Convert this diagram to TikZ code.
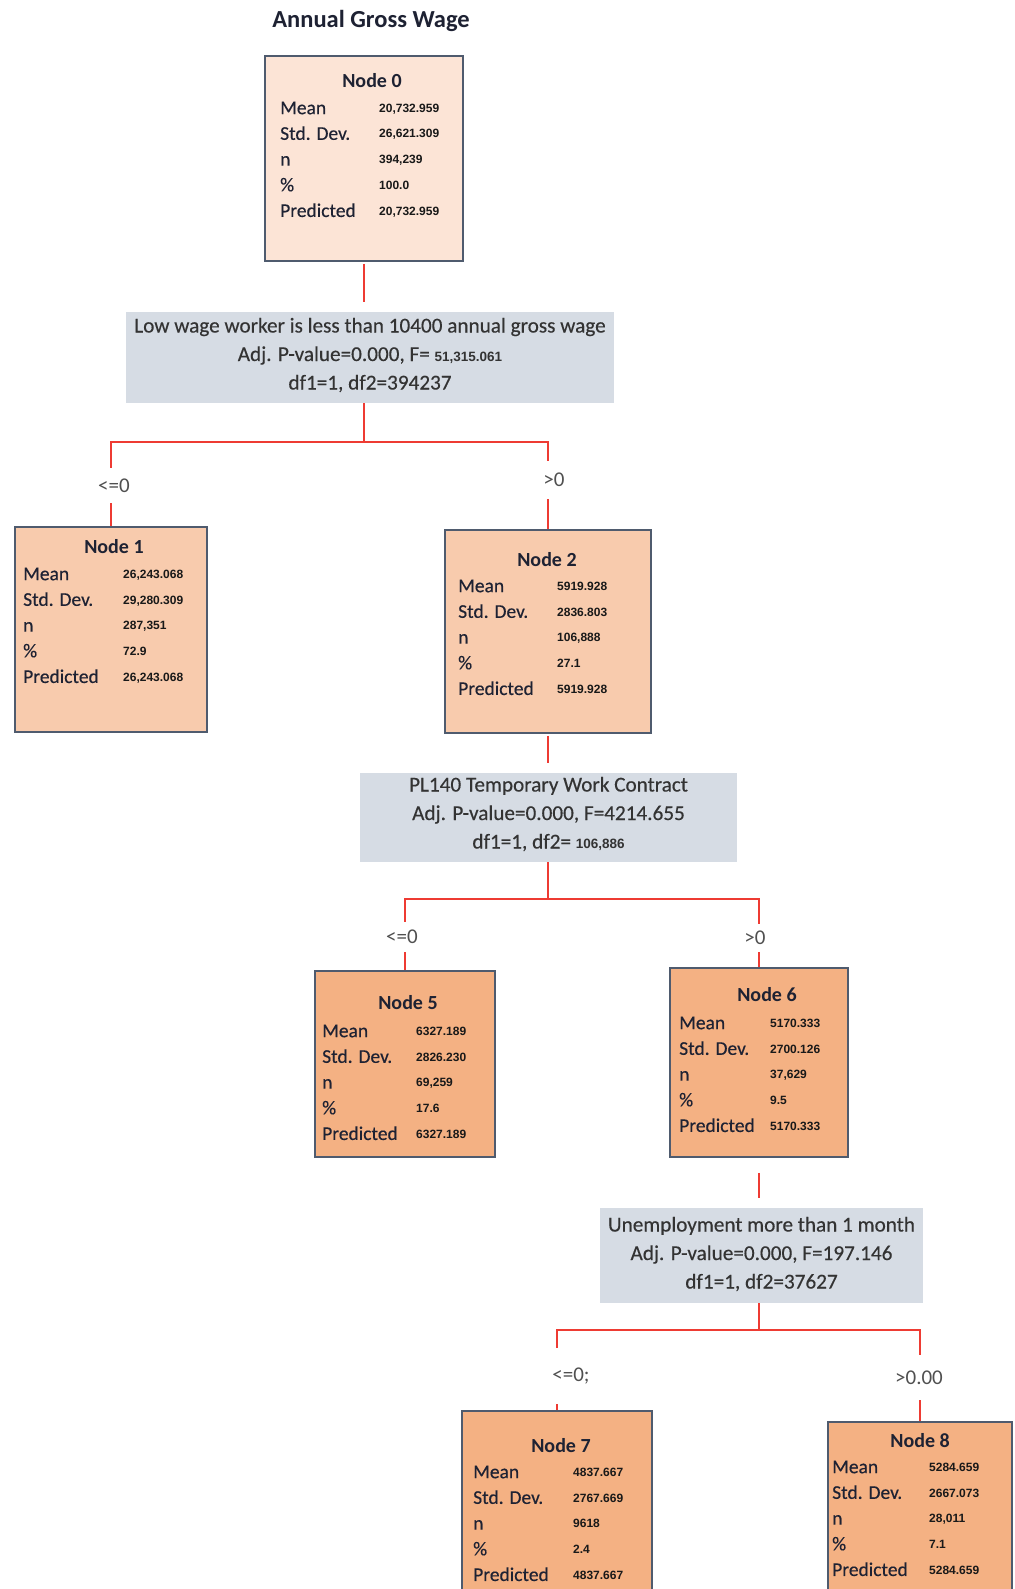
\documentclass[tikz,border=0pt]{standalone}
\usepackage{fontspec}
\setmainfont{Carlito}
\newfontfamily\labf[FakeBold=0.35]{Carlito}
\newfontfamily\numf{Liberation Sans}
\definecolor{fillA}{HTML}{FCE4D6}
\definecolor{fillB}{HTML}{F8CBAD}
\definecolor{fillC}{HTML}{F4B183}
\definecolor{edgec}{HTML}{4F5B6E}
\definecolor{splitc}{HTML}{D6DCE4}
\definecolor{redc}{HTML}{EE3B33}
\definecolor{labc}{HTML}{1E2233}
\definecolor{splittext}{HTML}{333333}
\definecolor{brkc}{HTML}{505050}
\newcommand\snum[1]{{\numf\bfseries\fontsize{13.5}{13.5}\selectfont #1}}
\newcommand\tbox[6]{%
  \node[tbox,fill=#6,minimum width={#4-#2},minimum height={#5-#3}] (#1) at ({(#2+#4)/2},{(#3+#5)/2}) {};}
\newcommand\statrows[9]{%
  \node[lab] (#1m) at (#2,#4) {Mean};
  \node[lab] (#1s) at (#2,{#4+25.7}) {Std. Dev.};
  \node[lab] (#1n) at (#2,{#4+51.4}) {n};
  \node[lab] (#1p) at (#2,{#4+77.1}) {\%};
  \node[lab] (#1r) at (#2,{#4+102.8}) {Predicted};
  \node[val] (#1mv) at (#3,#4) {#5};
  \node[val] (#1sv) at (#3,{#4+25.7}) {#6};
  \node[val] (#1nv) at (#3,{#4+51.4}) {#7};
  \node[val] (#1pv) at (#3,{#4+77.1}) {#8};
  \node[val] (#1rv) at (#3,{#4+102.8}) {#9};}
\begin{document}
\begin{tikzpicture}[x=1pt,y=-1pt,
  tbox/.style={draw=edgec,line width=1.6pt,inner sep=0pt},
  lab/.style={font=\labf\fontsize{19.5}{19.5}\selectfont,text=labc,inner sep=0pt,anchor=west,text height=12.3pt,text depth=0pt},
  val/.style={font=\numf\bfseries\fontsize{12}{12}\selectfont,text=black!90,inner sep=0pt,anchor=west,text height=8.6pt,text depth=0pt},
  ttl/.style={font=\bfseries\fontsize{20}{20}\selectfont,text=labc,inner sep=0pt,text height=12.8pt,text depth=0pt},
  splitbox/.style={fill=splitc,inner sep=0pt},
  splittxt/.style={font=\labf\fontsize{21.2}{28.5}\selectfont,text=splittext,align=center,inner sep=0pt},
  brk/.style={font=\fontsize{21}{21}\selectfont,text=brkc,inner sep=0pt},
  conn/.style={draw=redc,line width=2pt}]
\useasboundingbox (0,0) rectangle (1014,1589);
\clip (0,0) rectangle (1014,1589);
\fill[white] (0,0) rectangle (1014,1589);

% title
\node[font=\bfseries\fontsize{24.5}{24.5}\selectfont,text=labc,inner sep=0pt,text height=16pt,text depth=0pt] (title) at (371,20) {Annual Gross Wage};

% node boxes
\tbox{n0}{265}{56}{463}{261}{fillA}
\tbox{n1}{15}{527}{207}{732}{fillB}
\tbox{n2}{445}{530}{651}{733}{fillB}
\tbox{n5}{315}{971}{495}{1157}{fillC}
\tbox{n6}{670}{968}{848}{1157}{fillC}
\tbox{n7}{462}{1411}{652}{1620}{fillC}
\tbox{n8}{828}{1422}{1012}{1620}{fillC}

% titles
\node[ttl] (n0t) at (372,81) {Node 0};
\node[ttl] (n1t) at (114,547) {Node 1};
\node[ttl] (n2t) at (547,560) {Node 2};
\node[ttl] (n5t) at (408,1003) {Node 5};
\node[ttl] (n6t) at (767,995) {Node 6};
\node[ttl] (n7t) at (561,1446) {Node 7};
\node[ttl] (n8t) at (920,1441) {Node 8};

% rows
\statrows{n0}{280}{379}{108}{20,732.959}{26,621.309}{394,239}{100.0}{20,732.959}
\statrows{n1}{23}{123}{574}{26,243.068}{29,280.309}{287,351}{72.9}{26,243.068}
\statrows{n2}{458}{557}{586}{5919.928}{2836.803}{106,888}{27.1}{5919.928}
\statrows{n5}{322}{416}{1031}{6327.189}{2826.230}{69,259}{17.6}{6327.189}
\statrows{n6}{679}{770}{1023}{5170.333}{2700.126}{37,629}{9.5}{5170.333}
\statrows{n7}{473}{573}{1472}{4837.667}{2767.669}{9618}{2.4}{4837.667}
\statrows{n8}{832}{929}{1467}{5284.659}{2667.073}{28,011}{7.1}{5284.659}

% split boxes
\node[splitbox,minimum width=488,minimum height=91] (s1) at (370,357.5) {};
\node[splittxt] (s1t) at (370,355) {Low wage worker is less than 10400 annual gross wage\\Adj. P-value=0.000, F= \snum{51,315.061}\\df1=1, df2=394237};
\node[splitbox,minimum width=377,minimum height=89] (s2) at (548.5,817.5) {};
\node[splittxt] (s2t) at (548.5,814) {PL140 Temporary Work Contract\\Adj. P-value=0.000, F=4214.655\\df1=1, df2= \snum{106,886}};
\node[splitbox,minimum width=323,minimum height=95] (s3) at (761.5,1255.5) {};
\node[splittxt] (s3t) at (761.5,1254) {Unemployment more than 1 month\\Adj. P-value=0.000, F=197.146\\df1=1, df2=37627};

% branch labels
\node[brk,minimum height=35] (b1) at (114,485.5) {<=0};
\node[brk,minimum height=38] (b2) at (554,480) {>0};
\node[brk,minimum height=30] (b5) at (402,937) {<=0};
\node[brk,minimum height=28] (b6) at (755,938) {>0};
\node[brk,minimum height=56] (b7) at (571,1376) {<=0;};
\node[brk,minimum height=45] (b8) at (919,1377.5) {>0.00};

% junctions
\coordinate (j1) at (364,442);
\coordinate (j2) at (548,899);
\coordinate (j3) at (759,1330);

% connectors
\draw[conn,shorten <=2pt,shorten >=10pt] (n0.south) -- (n0.south |- s1.north);
\draw[conn] (n0.south |- s1.south) -- (j1);
\draw[conn] (j1) -| (n1.north |- b1.north);
\draw[conn] (n1.north |- b1.south) -- (n1.north);
\draw[conn] (j1) -| (n2.north |- b2.north);
\draw[conn] (n2.north |- b2.south) -- (n2.north);

\draw[conn,shorten <=2pt,shorten >=10pt] (n2.south) -- (n2.south |- s2.north);
\draw[conn] (n2.south |- s2.south) -- (j2);
\draw[conn] (j2) -| (n5.north |- b5.north);
\draw[conn] (n5.north |- b5.south) -- (n5.north);
\draw[conn] (j2) -| (n6.north |- b6.north);
\draw[conn] (n6.north |- b6.south) -- (n6.north);

\draw[conn,shorten <=15pt,shorten >=10pt] (n6.south) -- (n6.south |- s3.north);
\draw[conn] (n6.south |- s3.south) -- (j3);
\draw[conn] (j3) -| (n7.north |- b7.north);
\draw[conn] (n7.north |- b7.south) -- (n7.north);
\draw[conn] (j3) -| (n8.north |- b8.north);
\draw[conn] (n8.north |- b8.south) -- (n8.north);
\end{tikzpicture}
\end{document}
